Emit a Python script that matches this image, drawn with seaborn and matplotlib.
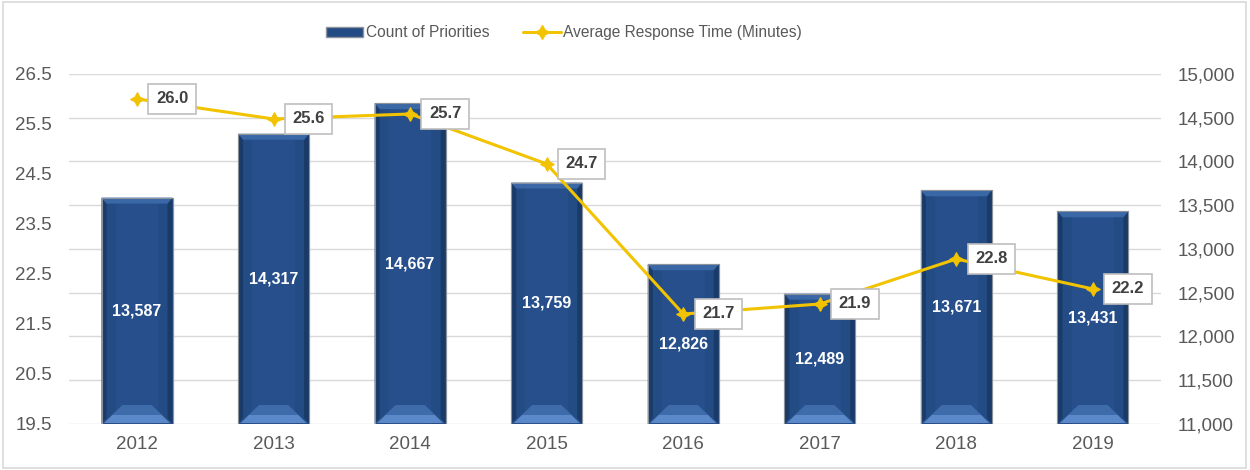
import numpy as np
import pandas as pd
import seaborn as sns
import matplotlib
matplotlib.use("Agg")
import matplotlib.pyplot as plt
from matplotlib.patches import Polygon, Rectangle, Patch
from matplotlib.lines import Line2D
from matplotlib.ticker import FuncFormatter, FixedLocator

years = ["2012", "2013", "2014", "2015", "2016", "2017", "2018", "2019"]
priority_counts = [13587, 14317, 14667, 13759, 12826, 12489, 13671, 13431]
avg_response_minutes = [26.0, 25.6, 25.7, 24.7, 21.7, 21.9, 22.8, 22.2]
left_ticks = [19.5, 20.5, 21.5, 22.5, 23.5, 24.5, 25.5, 26.5]
right_ticks = [11000, 11500, 12000, 12500, 13000, 13500, 14000, 14500, 15000]

sns.set_theme(style="white")
plt.rcParams["font.family"] = ["Liberation Sans", "DejaVu Sans"]

BAR_FACE = "#234B84"
BAR_DARK = "#1A3A68"
BAR_MID = "#274F8B"
BAR_LIGHT = "#3A67A6"
BAR_BOTTOM = "#3E6BAA"
BAR_BOTTOM_HI = "#5A88C8"
BAR_EDGE = "#8C929C"
LINE_GOLD = "#F2C300"
TICK_GREY = "#595959"
GRID_GREY = "#D9D9D9"

df = pd.DataFrame({"year": years, "count": priority_counts,
                   "minutes": avg_response_minutes})

fig = plt.figure(figsize=(12.5, 4.7), dpi=100)
ax = fig.add_axes([0.055, 0.0979, 0.874, 0.7447])
ax2 = ax.twinx()

# bars: Count of Priorities (right-hand scale)
sns.barplot(data=df, x="year", y="count", ax=ax, color=BAR_FACE,
            width=0.52, saturation=1, edgecolor=BAR_EDGE, linewidth=0.8,
            zorder=2)
ax.set_ylim(right_ticks[0], right_ticks[-1])
ax.yaxis.tick_right()
ax.yaxis.set_major_locator(FixedLocator(right_ticks))
ax.yaxis.set_major_formatter(FuncFormatter(lambda v, p: f"{int(v):,}"))
ax.set_xlabel("")
ax.set_ylabel("")

# bevel shading on each bar, built from the bar geometry
ymin, ymax = ax.get_ylim()
px_x = 1.0 / 136.7          # data units per pixel along x
px_y = (ymax - ymin) / 350  # data units per pixel along y


def poly(pts, color, z=3):
    ax.add_patch(Polygon(pts, closed=True, facecolor=color, edgecolor="none", zorder=z))


for p, val in zip(ax.patches, priority_counts):
    x0 = p.get_x()
    w = p.get_width()
    x1 = x0 + w
    top = p.get_y() + p.get_height()
    bot = ymin
    s = 5 * px_x
    t = 6 * px_y
    # slightly lighter inner column
    poly([(x0 + 0.2 * w, bot), (x0 + 0.8 * w, bot), (x0 + 0.8 * w, top), (x0 + 0.2 * w, top)],
         BAR_MID, 2.5)
    # side strips
    poly([(x0, bot), (x0 + s, bot + t), (x0 + s, top - t), (x0, top)], BAR_DARK)
    poly([(x1, bot), (x1 - s, bot + t), (x1 - s, top - t), (x1, top)], BAR_DARK)
    # top bevel
    poly([(x0, top), (x1, top), (x1 - s, top - t), (x0 + s, top - t)], BAR_LIGHT)
    # bottom bevel: sloped face rising from the bottom corners
    bh = 19 * px_y
    bi = 21 * px_x
    poly([(x0 + 2 * px_x, bot + 1 * px_y), (x1 - 2 * px_x, bot + 1 * px_y),
          (x1 - bi, bot + bh), (x0 + bi, bot + bh)], BAR_BOTTOM)
    bh2 = 9 * px_y
    bi2 = 11 * px_x
    poly([(x0 + 3 * px_x, bot + 1 * px_y), (x1 - 3 * px_x, bot + 1 * px_y),
          (x1 - bi2, bot + bh2), (x0 + bi2, bot + bh2)], BAR_BOTTOM_HI)
    ax.add_patch(Rectangle((x0, bot), w, top - bot, facecolor="none",
                           edgecolor=BAR_EDGE, linewidth=0.8, zorder=4))
    # value label
    ax.text(x0 + w / 2, (bot + top) / 2, f"{val:,}", ha="center", va="center",
            color="white", fontsize=11.5, fontweight="bold", zorder=5)

ax.grid(axis="y", color=GRID_GREY, linewidth=1.0, zorder=0)
ax.set_axisbelow(True)

# line: Average Response Time (left-hand scale)
xpos = np.arange(len(years))
sns.lineplot(x=xpos, y=avg_response_minutes, ax=ax2, color=LINE_GOLD,
             linewidth=2.2, marker=(4, 1, 0), markersize=10,
             markeredgecolor=LINE_GOLD, markerfacecolor=LINE_GOLD,
             sort=False, zorder=6)
ax2.set_ylim(left_ticks[0], left_ticks[-1])
ax2.yaxis.tick_left()
ax2.yaxis.set_major_locator(FixedLocator(left_ticks))
ax2.yaxis.set_major_formatter(FuncFormatter(lambda v, p: f"{v:.1f}"))
ax2.set_ylabel("")

for xi, v in zip(xpos, avg_response_minutes):
    ax2.annotate(f"{v:.1f}", xy=(xi, v), xytext=(35, 0), textcoords="offset pixels",
                 ha="center", va="center", fontsize=12, fontweight="bold",
                 color="#404040", zorder=7,
                 bbox=dict(boxstyle="square,pad=0.45", facecolor="white",
                           edgecolor="#BFBFBF", linewidth=1.2))

for a in (ax, ax2):
    for side in ("top", "left", "right", "bottom"):
        a.spines[side].set_visible(False)
    a.tick_params(axis="y", length=0, labelsize=13.5, colors=TICK_GREY)
ax.tick_params(axis="y", pad=12)
ax2.tick_params(axis="y", pad=12)
ax.tick_params(axis="x", length=0, labelsize=13.5, colors=TICK_GREY, pad=9)
ax.set_xlim(-0.5, len(years) - 0.5)

handles = [
    Patch(facecolor=BAR_FACE, edgecolor=BAR_EDGE, label="Count of Priorities"),
    Line2D([0], [0], color=LINE_GOLD, linewidth=2.2, marker=(4, 1, 0),
           markersize=10, label="Average Response Time (Minutes)"),
]
fig.legend(handles=handles, loc="center", bbox_to_anchor=(0.451, 0.93), ncol=2,
           frameon=False, fontsize=11.2, handlelength=2.4, handleheight=0.55,
           columnspacing=2.2, handletextpad=0.15, labelcolor=TICK_GREY)

fig.patches.append(Rectangle((0.002, 0.004), 0.995, 0.992, transform=fig.transFigure,
                             facecolor="none", edgecolor=GRID_GREY, linewidth=1.2))

fig.savefig("out.png", dpi=100)
